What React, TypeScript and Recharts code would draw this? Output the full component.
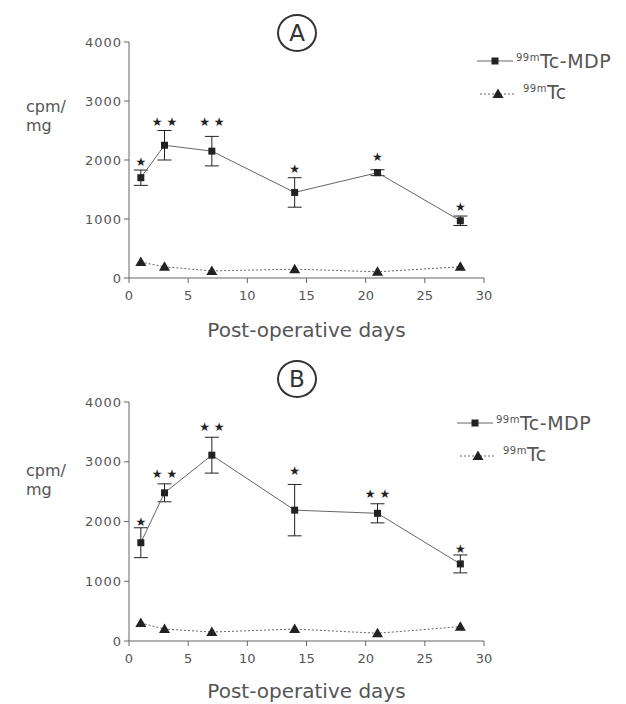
import React from "react";
import { LineChart, Line, XAxis, YAxis, ErrorBar, Scatter } from "recharts";

const days = [1, 3, 7, 14, 21, 28];

const mdpA = [1700, 2250, 2150, 1450, 1785, 970];
const mdpErrA = [130, 250, 250, 250, 50, 80];
const tcA = [270, 190, 120, 150, 105, 190];
const starYA = [1960, 2650, 2650, 1850, 2050, 1210];
const starCountA = [1, 2, 2, 1, 1, 1];

const mdpB = [1645, 2480, 3110, 2190, 2137, 1290];
const mdpErrB = [250, 150, 300, 430, 160, 150];
const tcB = [300, 200, 150, 200, 130, 240];
const starYB = [2000, 2790, 3580, 2850, 2460, 1540];
const starCountB = [1, 2, 2, 1, 2, 1];

const xTicks = [0, 5, 10, 15, 20, 25, 30];
const yTicks = [0, 1000, 2000, 3000, 4000];

const FONT = "'DejaVu Sans', 'Liberation Sans', sans-serif";
const TEXT = "#555";
const LINE = "#666";
const MARK = "#222";

const squareDot = (p: any) => (
  <rect key={`sq-${p.index}`} x={p.cx - 3.5} y={p.cy - 3.5} width={7} height={7} fill={MARK} />
);
const triDot = (p: any) => (
  <path
    key={`tr-${p.index}`}
    d={`M${p.cx},${p.cy - 5.5} L${p.cx + 5.5},${p.cy + 4} L${p.cx - 5.5},${p.cy + 4} Z`}
    fill={MARK}
  />
);
const starShape = (p: any) => {
  const n = p.payload.n;
  const s = n === 1 ? "★" : "★ ★";
  return (
    <text x={p.cx} y={p.cy} textAnchor="middle" dominantBaseline="central" fontSize={12} fill={MARK} fontFamily={FONT}>
      {s}
    </text>
  );
};

function Panel({ mdp, err, tc, starY, starCount, top, marginTop, marginBottom, labelOffset, letter, circleX, circleY, legendX, legendY, ylabY }: any) {
  const data = days.map((d, i) => ({ day: d, mdp: mdp[i], err: err[i], tc: tc[i] }));
  const stars = days.map((d, i) => ({ day: d, y: starY[i], n: starCount[i] }));
  const tickStyle = { fontFamily: FONT, fontSize: 13, fill: TEXT };
  return (
    <div style={{ position: "absolute", left: 0, top, width: 626, height: 352 }}>
      <LineChart width={626} height={352} data={data} margin={{ top: marginTop, right: 142, left: 69, bottom: marginBottom }}>
        <XAxis
          dataKey="day"
          type="number"
          domain={[0, 30]}
          ticks={xTicks}
          tickSize={5}
          tickMargin={8}
          height={62}
          stroke={LINE}
          tick={tickStyle}
          allowDataOverflow
          label={{ value: "Post-operative days", position: "insideBottom", offset: labelOffset, style: { fontFamily: FONT, fontSize: 20, fill: TEXT } }}
        />
        <YAxis
          type="number"
          domain={[0, 4000]}
          ticks={yTicks}
          tickSize={5}
          width={60}
          stroke={LINE}
          tick={{ ...tickStyle, letterSpacing: 1 }}
          interval={0}
        />
        <Line dataKey="tc" stroke={LINE} strokeWidth={1} strokeDasharray="2 2" dot={triDot} isAnimationActive={false} />
        <Line dataKey="mdp" stroke={LINE} strokeWidth={1} dot={squareDot} isAnimationActive={false}>
          <ErrorBar dataKey="err" width={7} stroke={MARK} strokeWidth={1} direction="y" />
        </Line>
        <Scatter data={stars} dataKey="y" shape={starShape} isAnimationActive={false} />
      </LineChart>
      <div
        style={{
          position: "absolute",
          left: circleX - 20,
          top: circleY - 19,
          width: 36,
          height: 34,
          border: "2px solid #333",
          borderRadius: "50%",
          display: "flex",
          alignItems: "center",
          justifyContent: "center",
          fontFamily: FONT,
          fontSize: 23,
          color: "#333",
        }}
      >
        {letter}
      </div>
      <div style={{ position: "absolute", left: 26, top: ylabY, fontFamily: FONT, fontSize: 16, color: TEXT, lineHeight: "19px" }}>
        cpm/
        <br />
        mg
      </div>
      <div style={{ position: "absolute", left: legendX, top: legendY, fontFamily: FONT, color: TEXT }}>
        <div style={{ display: "flex", alignItems: "center", height: 31 }}>
          <svg width={36} height={14}>
            <line x1={0} y1={7} x2={36} y2={7} stroke={LINE} strokeWidth={1} />
            <rect x={14.5} y={3.5} width={7} height={7} fill={MARK} />
          </svg>
          <span style={{ marginLeft: 3, fontSize: 19, letterSpacing: 0.5 }}>
            <sup style={{ fontSize: 10 }}>99m</sup>Tc-MDP
          </span>
        </div>
        <div style={{ display: "flex", alignItems: "center", height: 31, marginLeft: 3 }}>
          <svg width={36} height={14}>
            <line x1={0} y1={9} x2={36} y2={9} stroke={LINE} strokeWidth={1} strokeDasharray="2 2" />
            <path d="M18,3.5 L23.5,13 L12.5,13 Z" fill={MARK} />
          </svg>
          <span style={{ marginLeft: 7, fontSize: 19, letterSpacing: 0.5 }}>
            <sup style={{ fontSize: 10 }}>99m</sup>Tc
          </span>
        </div>
      </div>
    </div>
  );
}

export default function App() {
  return (
    <div style={{ position: "absolute", left: 0, top: 0, width: 626, height: 704, background: "#fff", overflow: "hidden" }}>
      <Panel
        mdp={mdpA}
        err={mdpErrA}
        tc={tcA}
        starY={starYA}
        starCount={starCountA}
        top={0}
        marginTop={42}
        marginBottom={12}
        labelOffset={3}
        letter="A"
        circleX={297}
        circleY={33}
        legendX={477}
        legendY={45}
        ylabY={97}
      />
      <Panel
        mdp={mdpB}
        err={mdpErrB}
        tc={tcB}
        starY={starYB}
        starCount={starCountB}
        top={352}
        marginTop={50}
        marginBottom={1}
        labelOffset={5}
        letter="B"
        circleX={297}
        circleY={27}
        legendX={457}
        legendY={55}
        ylabY={109}
      />
    </div>
  );
}
